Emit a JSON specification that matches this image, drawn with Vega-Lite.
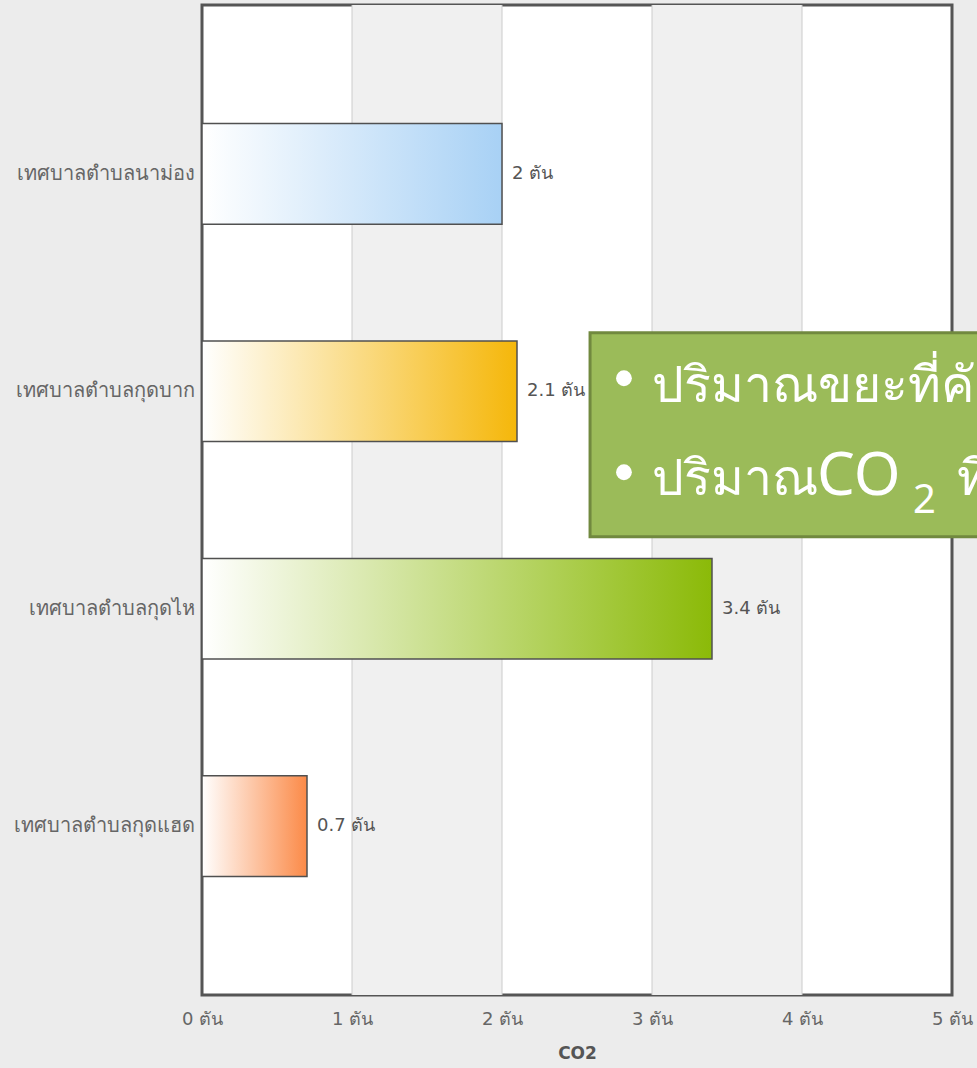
{
  "$schema": "https://vega.github.io/schema/vega-lite/v6.json",
  "autosize": "none",
  "width": 750,
  "height": 990,
  "padding": {"left": 202, "top": 5, "right": 25, "bottom": 73},
  "background": "#ececec",
  "config": {
    "view": {"stroke": "#555555", "strokeWidth": 3, "fill": "#ffffff"},
    "font": "DejaVu Sans"
  },
  "datasets": {
    "bars": [
      {"name": "เทศบาลตำบลนาม่อง", "co2": 2, "label": "2 ตัน"},
      {"name": "เทศบาลตำบลกุดบาก", "co2": 2.1, "label": "2.1 ตัน"},
      {"name": "เทศบาลตำบลกุดไห", "co2": 3.4, "label": "3.4 ตัน"},
      {"name": "เทศบาลตำบลกุดแฮด", "co2": 0.7, "label": "0.7 ตัน"}
    ],
    "stripes": [{"from": 1, "to": 2}, {"from": 3, "to": 4}],
    "grid": [{"v": 1}, {"v": 2}, {"v": 3}, {"v": 4}],
    "note": [{"x1": 2.587, "x2": 5.4, "top": 33.1, "bottom": 53.7}],
    "bullets": [{"x": 2.813, "y": 37.7}, {"x": 2.813, "y": 47.2}],
    "noteText": [
      {"x": 3.0, "y": 40.1, "t": "ปริมาณขยะที่คัดแยก", "size": 50},
      {"x": 3.0, "y": 49.5, "t": "ปริมาณ", "size": 50},
      {"x": 4.1, "y": 49.5, "t": "CO", "size": 60},
      {"x": 4.74, "y": 51.3, "t": "2", "size": 40},
      {"x": 5.03, "y": 49.5, "t": "ที่ลดได้", "size": 50}
    ]
  },
  "layer": [
    {
      "layer": [
        {
          "data": {"name": "stripes"},
          "mark": {"type": "rect", "color": "#f0f0f0"},
          "encoding": {
            "x": {"field": "from", "type": "quantitative", "scale": {"domain": [0, 5], "nice": false}},
            "x2": {"field": "to"}
          }
        },
        {
          "data": {"name": "grid"},
          "mark": {"type": "rule", "color": "#cccccc", "strokeWidth": 1},
          "encoding": {
            "x": {"field": "v", "type": "quantitative"}
          }
        },
        {
          "data": {"name": "bars"},
          "mark": {"type": "bar", "stroke": "#505050", "strokeWidth": 1.5},
          "encoding": {
            "y": {
              "field": "name", "type": "nominal",
              "sort": ["เทศบาลตำบลนาม่อง", "เทศบาลตำบลกุดบาก", "เทศบาลตำบลกุดไห", "เทศบาลตำบลกุดแฮด"],
              "scale": {"paddingInner": 0.537, "paddingOuter": 0.545},
              "axis": {"title": null, "domain": false, "ticks": false, "labelPadding": 8, "labelFontSize": 20, "labelLimit": 260, "labelColor": "#666666", "labelFont": "DejaVu Sans"}
            },
            "x": {
              "field": "co2", "type": "quantitative",
              "axis": {"title": "CO2", "titleFontSize": 17, "titleColor": "#555555", "titleFontWeight": "bold", "titlePadding": 17, "grid": false, "domain": false, "ticks": false, "labelPadding": 15, "labelFontSize": 18, "labelColor": "#666666", "tickCount": 5, "labelExpr": "datum.value + ' ตัน'", "labelFlush": false}
            },
            "color": {
              "condition": [
                {"test": "datum.name === 'เทศบาลตำบลนาม่อง'", "value": {"gradient": "linear", "x1": 0, "y1": 0, "x2": 1, "y2": 0, "stops": [{"offset": 0, "color": "#ffffff"}, {"offset": 1, "color": "#a8d1f5"}]}},
                {"test": "datum.name === 'เทศบาลตำบลกุดบาก'", "value": {"gradient": "linear", "x1": 0, "y1": 0, "x2": 1, "y2": 0, "stops": [{"offset": 0, "color": "#ffffff"}, {"offset": 1, "color": "#f5b70a"}]}},
                {"test": "datum.name === 'เทศบาลตำบลกุดไห'", "value": {"gradient": "linear", "x1": 0, "y1": 0, "x2": 1, "y2": 0, "stops": [{"offset": 0, "color": "#ffffff"}, {"offset": 1, "color": "#8bba08"}]}}
              ],
              "value": {"gradient": "linear", "x1": 0, "y1": 0, "x2": 1, "y2": 0, "stops": [{"offset": 0, "color": "#ffffff"}, {"offset": 1, "color": "#fb8a48"}]}
            }
          }
        },
        {
          "data": {"name": "bars"},
          "mark": {"type": "text", "align": "left", "baseline": "middle", "dx": 10, "fontSize": 18, "color": "#555555"},
          "encoding": {
            "y": {"field": "name", "type": "nominal", "sort": ["เทศบาลตำบลนาม่อง", "เทศบาลตำบลกุดบาก", "เทศบาลตำบลกุดไห", "เทศบาลตำบลกุดแฮด"]},
            "x": {"field": "co2", "type": "quantitative"},
            "text": {"field": "label"}
          }
        }
      ]
    },
    {
      "layer": [
        {
          "data": {"name": "note"},
          "mark": {"type": "rect", "fill": "#9bbb59", "stroke": "#71893f", "strokeWidth": 3},
          "encoding": {
            "x": {"field": "x1", "type": "quantitative"},
            "x2": {"field": "x2"},
            "y": {"field": "top", "type": "quantitative", "scale": {"domain": [0, 100], "reverse": true, "nice": false}, "axis": null},
            "y2": {"field": "bottom"}
          }
        },
        {
          "data": {"name": "bullets"},
          "mark": {"type": "point", "filled": true, "color": "#ffffff", "opacity": 1, "size": 250, "shape": "circle"},
          "encoding": {
            "x": {"field": "x", "type": "quantitative"},
            "y": {"field": "y", "type": "quantitative"}
          }
        },
        {
          "data": {"name": "noteText"},
          "mark": {"type": "text", "align": "left", "baseline": "alphabetic", "color": "#ffffff", "font": "Noto Sans"},
          "encoding": {
            "x": {"field": "x", "type": "quantitative"},
            "y": {"field": "y", "type": "quantitative"},
            "text": {"field": "t"},
            "size": {"field": "size", "type": "quantitative", "scale": null}
          }
        }
      ]
    }
  ],
  "resolve": {"scale": {"y": "independent"}, "axis": {"y": "independent"}}
}
